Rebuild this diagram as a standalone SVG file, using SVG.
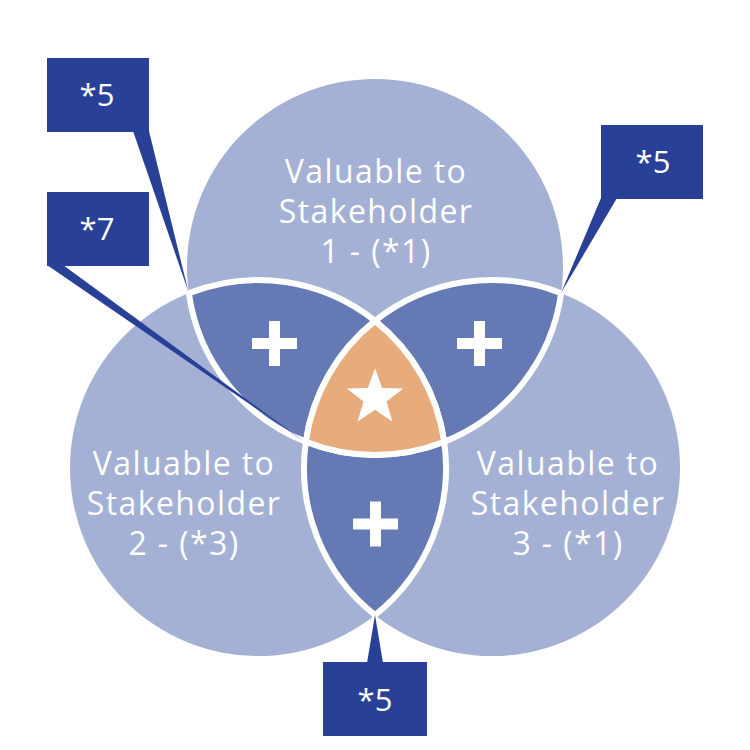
<svg xmlns="http://www.w3.org/2000/svg" width="750" height="750" viewBox="0 0 750 750">
<defs>
<style>
.circ{fill:#A4B0D4}
.lens{fill:#6579B5;stroke:#FFFFFF;stroke-width:6}
.core{fill:#E8AB7B;stroke:#FFFFFF;stroke-width:6}
.lbl{font-family:"Open Sans","Liberation Sans",sans-serif;font-size:32px;fill:#FFFFFF;text-anchor:middle;letter-spacing:1.4px}
.box{fill:#284196}
.ptr{fill:#284196}
.note{font-family:"Open Sans","Liberation Sans",sans-serif;font-size:31px;fill:#FFFFFF;text-anchor:middle}
.plus{fill:#FFFFFF}
</style>
<path id="plusShape" d="M-5.5,-22.5 H5.5 V-5.5 H22.5 V5.5 H5.5 V22.5 H-5.5 V5.5 H-22.5 V-5.5 H-5.5 Z"/>
</defs>
<rect width="750" height="750" fill="#FFFFFF"/>
<g id="circle-1"><circle class="circ" cx="375" cy="267" r="188"/></g>
<g id="circle-2"><circle class="circ" cx="258" cy="468" r="188"/></g>
<g id="circle-3"><circle class="circ" cx="492" cy="468" r="188"/></g>
<g id="lens-1-2">
<path class="lens" d="M188.83,293.18 A188,188 0 0 1 375,320.84 A188,188 0 0 0 305.83,441.82 A188,188 0 0 1 188.83,293.18 Z"/>
<use href="#plusShape" class="plus" x="274.5" y="343.5"/>
</g>
<g id="lens-1-3">
<path class="lens" d="M561.17,293.18 A188,188 0 0 0 375,320.84 A188,188 0 0 1 444.17,441.82 A188,188 0 0 0 561.17,293.18 Z"/>
<use href="#plusShape" class="plus" x="479.5" y="343.5"/>
</g>
<g id="lens-2-3">
<path class="lens" d="M305.83,441.82 A188,188 0 0 0 444.17,441.82 A188,188 0 0 1 375,615.16 A188,188 0 0 1 305.83,441.82 Z"/>
<use href="#plusShape" class="plus" x="375.5" y="524"/>
</g>
<g id="core">
<path class="core" d="M375,320.84 A188,188 0 0 1 444.17,441.82 A188,188 0 0 1 305.83,441.82 A188,188 0 0 1 375,320.84 Z"/>
<polygon fill="#FFFFFF" points="375,368 382.1,387.9 403.3,388.5 386.5,401.4 392.5,421.7 375,409.7 357.5,421.7 363.5,401.4 346.7,388.5 367.9,387.9"/>
</g>
<g id="labels">
<text class="lbl" x="376" y="183">Valuable to</text>
<text class="lbl" x="376" y="223">Stakeholder</text>
<text class="lbl" x="376" y="263">1 - (*1)</text>
<text class="lbl" x="184" y="475">Valuable to</text>
<text class="lbl" x="184" y="515">Stakeholder</text>
<text class="lbl" x="184" y="555">2 - (*3)</text>
<text class="lbl" x="568" y="475">Valuable to</text>
<text class="lbl" x="568" y="515">Stakeholder</text>
<text class="lbl" x="568" y="555">3 - (*1)</text>
</g>
<g id="connectors">
<polygon class="ptr" points="133,131 149,131 188.5,292"/>
<polygon class="ptr" points="47,265 63,265 305,442"/>
<polygon class="ptr" points="601,198 617,198 561,293"/>
<polygon class="ptr" points="367,663 383,663 375,615"/>
</g>
<g id="note-tl5"><rect class="box" x="47" y="58" width="102" height="74"/><text class="note" x="97" y="106">*5</text></g>
<g id="note-7"><rect class="box" x="47" y="192" width="102" height="74"/><text class="note" x="97" y="240">*7</text></g>
<g id="note-tr5"><rect class="box" x="601" y="125" width="102" height="74"/><text class="note" x="653" y="173">*5</text></g>
<g id="note-b5"><rect class="box" x="323" y="662" width="104" height="74"/><text class="note" x="375" y="711">*5</text></g>
</svg>
